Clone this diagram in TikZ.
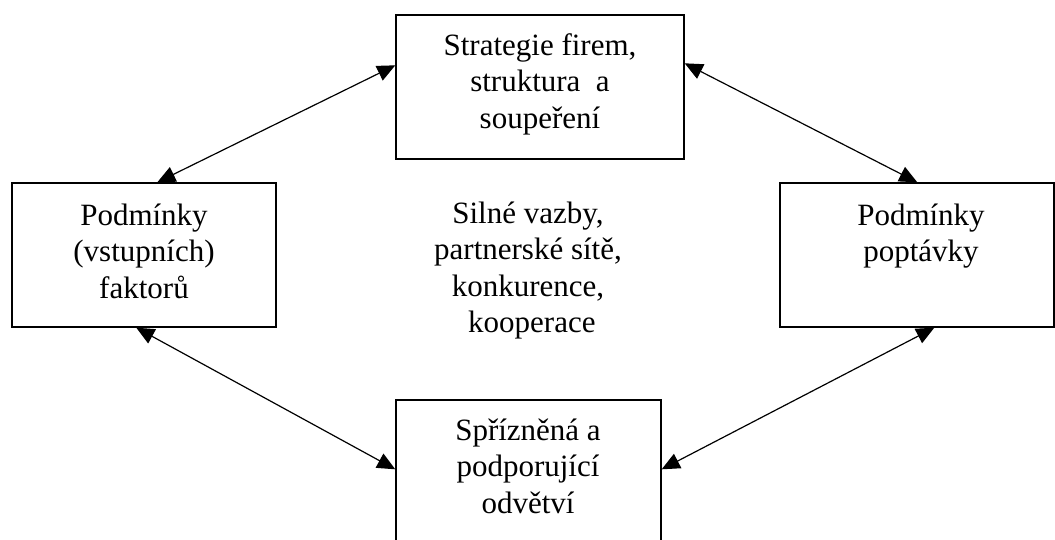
\documentclass[tikz,border=0pt]{standalone}
\usepackage{fontspec}
\setmainfont{Liberation Serif}
\usetikzlibrary{arrows.meta,calc}
\begin{document}
\begin{tikzpicture}[x=1pt,y=-1pt,
  box/.style={draw=black,line width=1.4pt,fill=white,inner sep=0pt,rectangle},
  txt/.style={align=center,inner sep=0pt,anchor=north,font=\fontsize{31}{36.5}\selectfont},
  conn/.style={line width=1.2pt,{Triangle[length=18pt,width=16pt]}-{Triangle[length=18pt,width=16pt]}}]
\useasboundingbox (0,0) rectangle (1055,539);
\clip (0,0) rectangle (1055,539);
\fill[white] (0,0) rectangle (1055,539);
% boxes
\node[box,minimum width=288pt,minimum height=144pt] (T) at (540,87) {};
\node[box,minimum width=264pt,minimum height=144pt] (L) at (144,255) {};
\node[box,minimum width=274pt,minimum height=144pt] (R) at (917,255) {};
\node[box,minimum width=265pt,minimum height=160pt] (B) at (528.5,480) {};
% texts
\node[txt] (Tt) at (540,29.45) {\strut Strategie firem,\\\strut struktura~~a\\\strut soupeření};
\node[txt] (Lt) at (144,199.45) {\strut Podmínky\\\strut (vstupních)\\\strut faktorů};
\node[txt] (Rt) at (921,199.45) {\strut Podmínky\\\strut poptávky};
\node[txt] (Bt) at (528,414.45) {\strut Spřízněná a\\\strut podporující\\\strut odvětví};
\node[txt] (M) at (528,197.45) {\strut Silné vazby,\\\strut partnerské sítě,\\\strut konkurence,\\\strut\hspace*{7.75pt}kooperace};
% connector ends
\coordinate (a1L) at ($(L.north west)+(146,0)$);
\coordinate (a1T) at ($(T.north west)+(0,51)$);
\coordinate (a2T) at ($(T.north east)+(0,49)$);
\coordinate (a2R) at ($(R.north west)+(138,0)$);
\coordinate (a3L) at ($(L.south west)+(125,0)$);
\coordinate (a3B) at ($(B.north west)+(0,70)$);
\coordinate (a4B) at ($(B.north east)+(0,70)$);
\coordinate (a4R) at ($(R.south west)+(155,0)$);
% connectors
\draw[conn] (a1L) -- (a1T);
\draw[conn] (a2T) -- (a2R);
\draw[conn] (a3L) -- (a3B);
\draw[conn] (a4B) -- (a4R);
\end{tikzpicture}
\end{document}
